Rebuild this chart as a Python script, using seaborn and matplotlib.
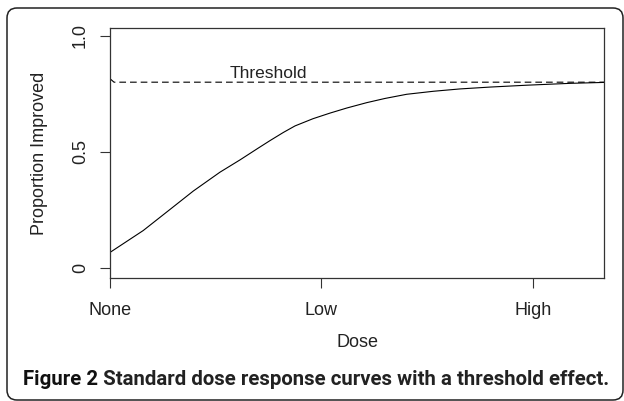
import matplotlib
matplotlib.use("Agg")
import numpy as np
import pandas as pd
import seaborn as sns
import matplotlib.pyplot as plt
from matplotlib.patches import FancyBboxPatch

# curve (dose axis: None=0, Low=1, High=2)
dose = [0, 0.157, 0.284, 0.394, 0.520, 0.615, 0.700, 0.757, 0.820, 0.875, 0.960,
        1.040, 1.120, 1.214, 1.300, 1.403, 1.530, 1.655, 1.797, 1.970, 2.175, 2.336]
response = [0.068, 0.162, 0.253, 0.332, 0.413, 0.466, 0.516, 0.549, 0.584, 0.612, 0.643,
            0.667, 0.689, 0.712, 0.730, 0.748, 0.761, 0.771, 0.779, 0.787, 0.795, 0.799]
thresh_dose = [0, 0.019, 2.336]
thresh_value = [0.815, 0.80, 0.80]

x_ticks = [0, 1, 2]
x_labels = ["None", "Low", "High"]
y_ticks = [0, 0.5, 1.0]
y_labels = ["0", "0.5", "1.0"]
caption_bold = "Figure 2"
caption_rest = " Standard dose response curves with a threshold effect."

sns.set_style("ticks")
plt.rcParams['font.family'] = ['Liberation Sans', 'DejaVu Sans']
edge = '#333333'

df = pd.DataFrame({"dose": dose, "response": response})
df_t = pd.DataFrame({"dose": thresh_dose, "value": thresh_value})

fig = plt.figure(figsize = (6.24, 4.01), dpi = 100)
ax = fig.add_axes([110 / 624, 123 / 401, 494 / 624, 250 / 401])

sns.lineplot(data = df, x = "dose", y = "response", color = "black", linewidth = 0.8, ax = ax)
sns.lineplot(data = df_t, x = "dose", y = "value", color = "black", linewidth = 0.8,
             dashes = False, ax = ax).lines[-1].set_dashes((6, 3.6))

ax.text(0.747, 0.807, "Threshold", ha = "center", va = "bottom", fontsize = 12.5, color = "#222222")

ax.set_xlim(0, 2.336)
ax.set_ylim(-0.042, 1.033)
ax.set_xticks(x_ticks)
ax.set_xticklabels(x_labels, fontsize = 13, color = "#222222")
ax.set_yticks(y_ticks)
ax.set_yticklabels(y_labels, fontsize = 13, rotation = 90, va = "center", color = "#222222")
ax.tick_params(axis = "x", length = 7.2, width = 0.8, color = edge, pad = 10)
ax.tick_params(axis = "y", length = 7.2, width = 0.8, color = edge, pad = 8)

ax.set_xlabel("Dose", fontsize = 13, color = "#222222")
ax.set_ylabel("Proportion Improved", fontsize = 13, color = "#222222")
ax.xaxis.set_label_coords(0.5, -0.225)
ax.yaxis.set_label_coords(-0.125, 0.5)

for s in ax.spines.values():
    s.set_visible(True)
    s.set_color(edge)
    s.set_linewidth(0.9)

# caption: bold lead-in + bold rest, scaled together to span the reference's width
cap_font = ["Roboto", "DejaVu Sans"]
t1 = fig.text(23 / 624, 16 / 401, caption_bold, fontsize = 15, fontweight = "bold",
              family = cap_font, color = "#111111", va = "baseline")
t2 = fig.text(0, 16 / 401, caption_rest, fontsize = 15, fontweight = "bold",
              family = cap_font, color = "#222222", va = "baseline")
fig.canvas.draw()
total = t1.get_window_extent().width + t2.get_window_extent().width
size = 15 * (613 - 23) / total
t1.set_fontsize(size)
t2.set_fontsize(size)
fig.canvas.draw()
t2.set_x(t1.get_window_extent().x1 / 624)

frame = FancyBboxPatch((0.07, 0.01), 6.16, 3.92, boxstyle = "round,pad=0,rounding_size=0.1",
                       transform = fig.dpi_scale_trans, fill = False, lw = 1.1, ec = "#222222")
fig.add_artist(frame)

fig.savefig("out.png", dpi = 100)
